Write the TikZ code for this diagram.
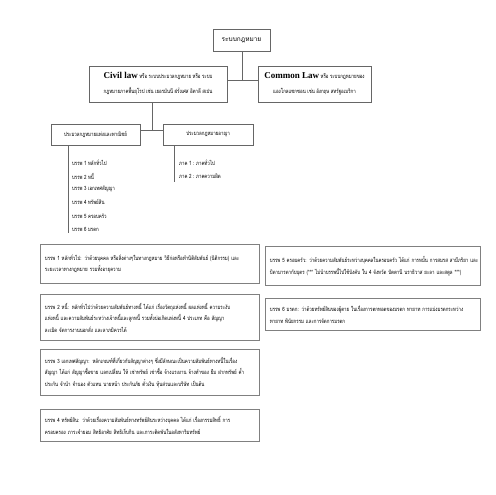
\documentclass[tikz,border=0pt]{standalone}
\usepackage{fontspec}
\setmainfont{Liberation Serif}
\newfontfamily\thai[Script=Thai]{Loma}
\newfontfamily\thaic[Script=Thai,FakeStretch=0.76]{Loma}
\begin{document}
\begin{tikzpicture}[x=1pt,y=-1pt,
  box/.style={draw=black!60, line width=0.9pt, rectangle, inner sep=0pt},
  bbox/.style={draw=black!50, line width=0.9pt, rectangle, anchor=north west,
    inner xsep=4.5pt, inner ysep=2pt, align=left,
    font=\thaic\fontsize{5.8}{11.5}\selectfont},
  small/.style={font=\thaic\fontsize{5.8}{11}\selectfont},
  item/.style={anchor=west, inner sep=0pt, font=\thaic\fontsize{5.8}{11}\selectfont},
  conn/.style={draw=black!60, line width=0.9pt}]
\useasboundingbox (0,0) rectangle (495,495);

\node[box, minimum width=57pt, minimum height=22pt, font=\thai\fontsize{6.5}{8}\selectfont] (top) at (241.5,40) {ระบบกฎหมาย};

\node[box, minimum width=138pt, minimum height=36pt, align=center, font=\thaic\fontsize{5.8}{15}\selectfont] (civil) at (158,84)
 {{\rmfamily\bfseries\fontsize{9}{10}\selectfont Civil law} หรือ ระบบประมวลกฎหมาย หรือ ระบบ\\ กฎหมายภาคพื้นยุโรป เช่น เยอรมันนี ฝรั่งเศส อิตาลี สเปน};

\node[box, minimum width=113pt, minimum height=36pt, align=center, font=\thaic\fontsize{5.8}{15}\selectfont] (common) at (314.5,84)
 {{\rmfamily\bfseries\fontsize{9}{10}\selectfont Common Law} หรือ ระบบกฎหมายของ\\ แองโกลแซกซอน เช่น อังกฤษ สหรัฐอเมริกา};

\coordinate (j1) at (242,80);
\draw[conn] (top.south -| j1) -- (j1);
\draw[conn] (civil.east |- j1) -- (common.west |- j1);

\node[box, minimum width=89pt, minimum height=21pt, small] (civcode) at (95.5,134.5) {ประมวลกฎหมายแพ่งและพาณิชย์};
\node[box, minimum width=90pt, minimum height=21pt, small] (crimcode) at (208,134.5) {ประมวลกฎหมายอาญา};

\coordinate (j2) at (152,130);
\draw[conn] (civil.south -| j2) -- (j2);
\draw[conn] (civcode.east |- j2) -- (crimcode.west |- j2);

\coordinate (l1) at (68,233);
\draw[conn] (civcode.south -| l1) -- (l1);
\node[item] (b1) at (72,163) {บรรพ 1 หลักทั่วไป};
\node[item] (b2) at (72,176) {บรรพ 2 หนี้};
\node[item] (b3) at (72,189) {บรรพ 3 เอกเทศสัญญา};
\node[item] (b4) at (72,202) {บรรพ 4 ทรัพย์สิน};
\node[item] (b5) at (72,216) {บรรพ 5 ครอบครัว};
\node[item] (b6) at (72,229) {บรรพ 6 มรดก};

\coordinate (l2) at (174,182);
\draw[conn] (crimcode.south -| l2) -- (l2);
\node[item] (p1) at (179,163) {ภาค 1 : ภาคทั่วไป};
\node[item] (p2) at (179,176) {ภาค 2 : ภาคความผิด};

\node[bbox, minimum width=219pt, minimum height=39pt, text width=210pt] (d1) at (40,244)
 {\mbox{บรรพ 1 หลักทั่วไป: ว่าด้วยบุคคล หรือสิ่งต่างๆในทางกฎหมาย วิธีก่อหรือทำนิติสัมพันธ์ (นิติกรรม) และ}\\\mbox{ระยะเวลาทางกฎหมาย รวมทั้งอายุความ}};
\node[bbox, minimum width=219pt, minimum height=46pt, text width=210pt] (d2) at (40,294)
 {\mbox{บรรพ 2 หนี้: หลักทั่วไปว่าด้วยความสัมพันธ์ทางหนี้ ได้แก่ เรื่องวัตถุแห่งหนี้ ผลแห่งหนี้ ความระงับ}\\\mbox{แห่งหนี้ และความสัมพันธ์ระหว่างเจ้าหนี้และลูกหนี้ รวมทั้งบ่อเกิดแห่งหนี้ 4 ประเภท คือ สัญญา}\\\mbox{ละเมิด จัดการงานนอกสั่ง และลาภมิควรได้}};
\node[bbox, minimum width=219pt, minimum height=46pt, text width=210pt] (d3) at (40,349)
 {\mbox{บรรพ 3 เอกเทศสัญญา: หลักเกณฑ์ที่เกี่ยวกับสัญญาต่างๆ ซึ่งมีลักษณะเป็นความสัมพันธ์ทางหนี้ในเรื่อง}\\\mbox{สัญญา ได้แก่ สัญญาซื้อขาย แลกเปลี่ยน ให้ เช่าทรัพย์ เช่าซื้อ จ้างแรงงาน จ้างทำของ ยืม ฝากทรัพย์ ค้ำ}\\\mbox{ประกัน จำนำ จำนอง ตัวแทน นายหน้า ประกันภัย ตั๋วเงิน หุ้นส่วนและบริษัท เป็นต้น}};
\node[bbox, minimum width=219pt, minimum height=32pt, text width=210pt] (d4) at (40,409)
 {\mbox{บรรพ 4 ทรัพย์สิน: ว่าด้วยเรื่องความสัมพันธ์ทางทรัพย์สินระหว่างบุคคล ได้แก่ เรื่องกรรมสิทธิ์ การ}\\\mbox{ครอบครอง ภาระจำยอม สิทธิอาศัย สิทธิเก็บกิน และภาระติดพันในอสังหาริมทรัพย์}};
\node[bbox, minimum width=215pt, minimum height=39pt, text width=206pt] (d5) at (265,246)
 {\mbox{บรรพ 5 ครอบครัว: ว่าด้วยความสัมพันธ์ระหว่างบุคคลในครอบครัว ได้แก่ การหมั้น การสมรส สามีภริยา และ}\\\mbox{บิดามารดากับบุตร (*** ไม่นำบรรพนี้ไปใช้บังคับ ใน 4 จังหวัด ปัตตานี นราธิวาส ยะลา และสตูล ***)}};
\node[bbox, minimum width=215pt, minimum height=32pt, text width=206pt] (d6) at (265,298)
 {\mbox{บรรพ 6 มรดก: ว่าด้วยทรัพย์สินของผู้ตาย ในเรื่องการตกทอดของมรดก ทายาท การแบ่งมรดกระหว่าง}\\\mbox{ทายาท พินัยกรรม และการจัดการมรดก}};
\end{tikzpicture}
\end{document}
